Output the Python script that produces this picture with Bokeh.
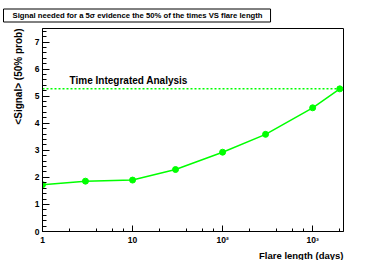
from bokeh.plotting import figure
from bokeh.models import (Label, Title, Range1d, SingleIntervalTicker, CustomJSTickFormatter,
                          LogTicker)
from bokeh.embed import file_html
from bokeh.resources import INLINE

# data
flare_days = [1, 3, 10, 30, 100, 300, 1000, 2000]
signal_50 = [1.73, 1.86, 1.90, 2.29, 2.93, 3.59, 4.57, 5.27]
time_integrated = 5.27
x_tick_labels = {1: "1", 10: "10", 100: "10²", 1000: "10³"}

title_text = "Signal needed for a 5σ evidence the 50% of the times VS flare length"
x_title = "Flare length (days)"
y_title = "<Signal> (50% prob)"
green = "#00ff00"
font = "Liberation Sans"

p = figure(width=382, height=260, x_axis_type="log", output_backend="svg",
           toolbar_location=None, x_range=Range1d(1, 2200), y_range=Range1d(0, 7.5),
           min_border_left=42, min_border_right=39, min_border_top=26, min_border_bottom=28)
p.xgrid.visible = False
p.ygrid.visible = False
p.outline_line_color = "black"
p.outline_line_width = 1
p.background_fill_color = "white"
p.border_fill_color = "white"

# title box
p.title.text = title_text
p.title.align = "left"
p.title.offset = -39
p.title.text_font = font
p.title.text_font_style = "bold"
p.title.text_font_size = "7.7px"
p.title.text_color = "black"
p.title.border_line_color = "black"
p.title.border_line_width = 1
p.title.background_fill_color = "white"
p.title.padding = (9, 8, 2, 2)
p.title.standoff = 13

# axes
p.yaxis.ticker = SingleIntervalTicker(interval=1, num_minor_ticks=5)
p.xaxis.ticker = LogTicker(desired_num_ticks=4)
p.xaxis.formatter = CustomJSTickFormatter(
    args=dict(m={str(k): v for k, v in x_tick_labels.items()}),
    code="const k = String(Math.round(tick)); return (k in m) ? m[k] : '';")
for ax in (p.xaxis[0], p.yaxis[0]):
    ax.major_tick_out = 0
    ax.minor_tick_out = 0
    ax.major_label_text_font = font
    ax.major_label_text_font_style = "bold"
    ax.major_label_text_font_size = "8.5px"
    ax.major_label_text_color = "black"
    ax.axis_line_color = "black"
p.xaxis.major_tick_in = 6
p.xaxis.minor_tick_in = 3
p.yaxis.major_tick_in = 7
p.yaxis.minor_tick_in = 4
p.xaxis.major_label_standoff = 3
p.yaxis.major_label_standoff = 3

# axis titles as right-aligned titles in the side panels
p.add_layout(Title(text=y_title, align="right", text_font=font, text_font_style="bold",
                   text_font_size="10px", text_color="black", standoff=16), "left")
p.add_layout(Title(text=x_title, align="right", text_font=font, text_font_style="bold",
                   text_font_size="9.5px", text_color="black", standoff=0), "below")

# series
p.line(flare_days, signal_50, line_color=green, line_width=1.5)
p.scatter(flare_days, signal_50, size=6, fill_color=green, line_color=green)
p.line([flare_days[0], flare_days[-1]], [time_integrated, time_integrated],
       line_color=green, line_width=1.5, line_dash="2 2")

p.add_layout(Label(x=2.0, y=5.38, text="Time Integrated Analysis", text_font=font,
                   text_font_style="bold", text_font_size="10px", text_baseline="bottom",
                   text_color="black"))

open("out.html", "w").write(file_html(p, INLINE))
